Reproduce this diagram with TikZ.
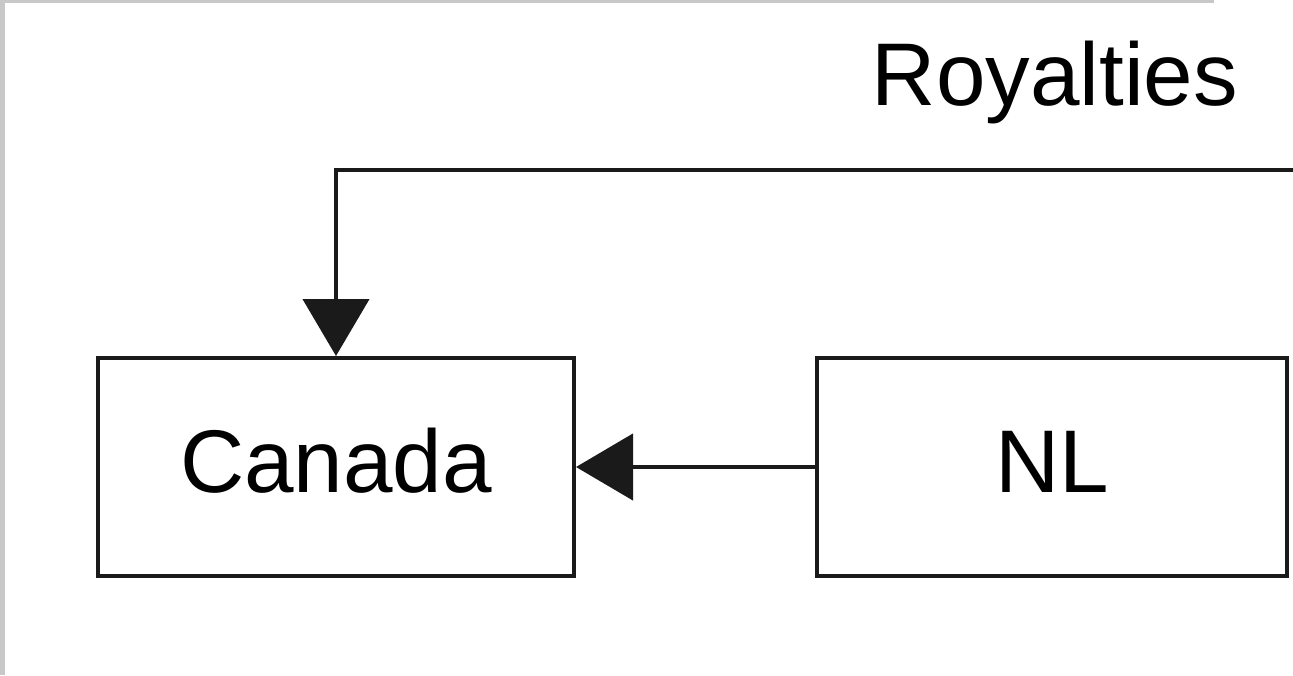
\documentclass[tikz,border=0pt]{standalone}
\usepackage{fontspec}
\setmainfont{Liberation Sans}
\usetikzlibrary{arrows.meta}
\definecolor{framegray}{HTML}{C8C8C8}
\definecolor{ink}{HTML}{1A1A1A}
\tikzset{
  entity/.style={draw=ink, line width=4pt, minimum width=476pt, minimum height=218pt,
    inner sep=0pt, text height=62pt, text depth=12pt,
    font=\fontsize{89}{100}\selectfont},
  flow/.style={draw=ink, line width=4.5pt, -{Triangle[length=57pt,width=66pt]}},
  caption/.style={inner sep=0pt, font=\fontsize{89}{100}\selectfont}
}
\begin{document}
\begin{tikzpicture}[x=1pt,y=-1pt]
  \useasboundingbox (0,0) rectangle (1293,675);
  % frame strips at the left and top edges
  \fill[framegray] (0,0) rectangle (5,675);
  \fill[framegray] (0,0) rectangle (1214,3);
  % entities
  \node[entity] (canada) at (336,467) {Canada};
  \node[entity, minimum width=470pt] (nl) at (1052,467) {NL};
  % royalty flow coming in from the right
  \coordinate (feed) at (1294,170);
  \node[caption, anchor=base] (roy) at (1055,105) {Royalties};
  \draw[flow] (feed) -| (canada.north);
  \draw[flow] (nl.west) -- (canada.east);
\end{tikzpicture}
\end{document}
